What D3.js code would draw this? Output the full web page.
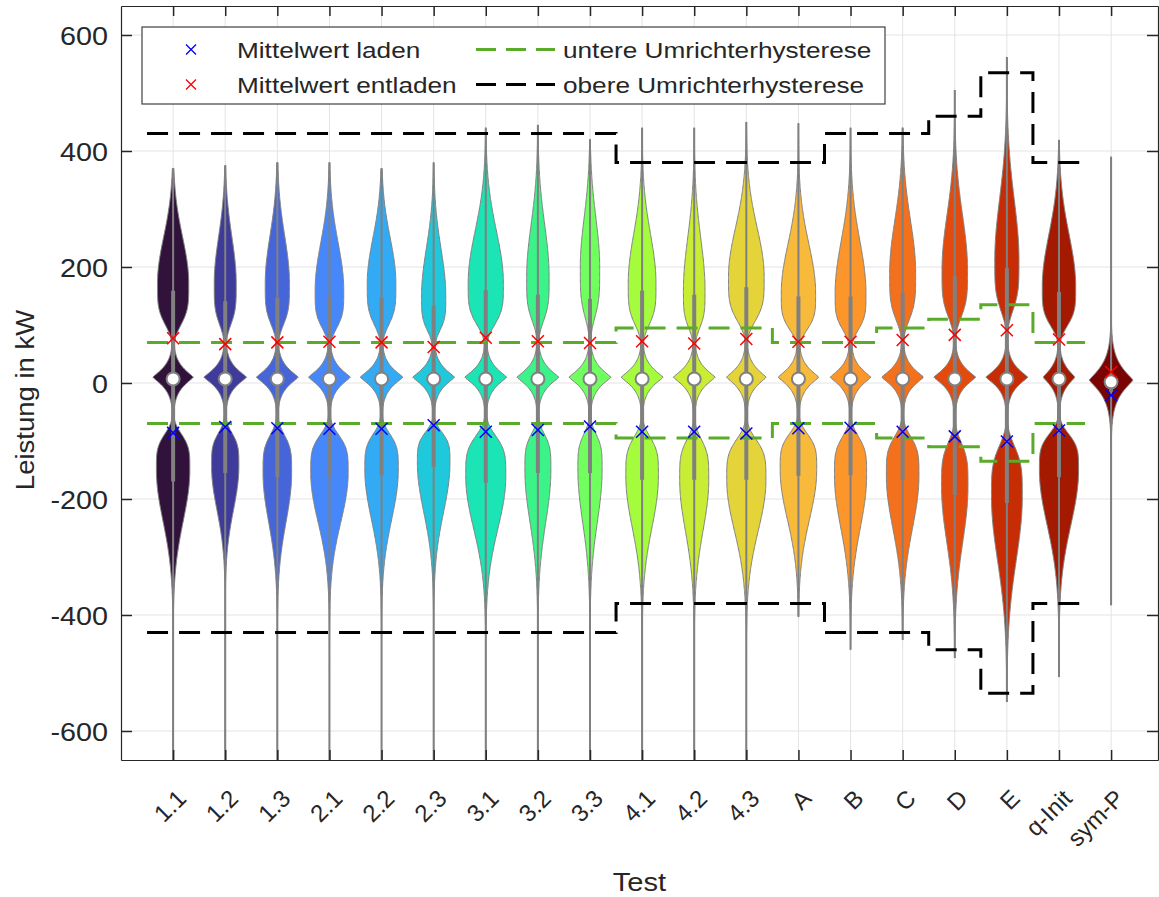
<!DOCTYPE html>
<html>
<head>
<meta charset="utf-8">
<script src="https://cdn.jsdelivr.net/npm/d3@7"></script>
<style>
  body { margin: 0; background: #fff; }
  svg text { font-family: "Liberation Sans", Arial, sans-serif; fill: #262626; }
</style>
</head>
<body>
<svg width="1159" height="897"></svg>
<script>
// categories
const tests = ['1.1','1.2','1.3','2.1','2.2','2.3','3.1','3.2','3.3','4.1','4.2','4.3','A','B','C','D','E','q-Init','sym-P'];
const yTicks = [-600, -400, -200, 0, 200, 400, 600];

// summary statistics per test (kW)
const medians = [7,7,7,7,7,7,7,7,7,7,7,7,7,7,7,7,7,7,2];
const q3 = [159,141,147,149,147,133,160,152,145,159,152,165,149,149,155,184,198,157,15];
const q1 = [-170,-155,-162,-161,-159,-145,-172,-155,-155,-167,-167,-167,-160,-159,-166,-193,-207,-162,-15];
const whiskerHigh = [370,375,380,380,370,380,440,445,420,440,440,450,448,440,440,505,562,419,390];
const whiskerLow = [-700,-700,-700,-700,-700,-700,-700,-700,-700,-700,-700,-700,-403,-460,-443,-474,-550,-507,-383];
const meanDischarge = [77,67,70,71,70,62,78,72,69,72,68,76,71,71,74,83,91,75,19];
const meanCharge = [-86,-76,-78,-79,-79,-73,-84,-81,-75,-84,-84,-87,-78,-77,-84,-92,-101,-82,-21];

// density lobes (relative density, kW)
const upperDensity = [.71,.50,.55,.65,.65,.55,.80,.51,.44,.63,.49,.81,.78,.70,.59,.58,.55,.76,0];
const upperPeak = [172,172,172,160,172,150,172,183,200,172,160,183,155,155,190,195,212,166,0];
const upperInner = [66,66,66,60,66,55,66,70,80,66,60,70,58,58,75,75,80,62,1];
const upperOuter = [80,80,82,82,78,82,90,90,85,85,90,85,85,90,90,95,105,90,1];
const midDensity = [.92,.97,.95,.95,.97,.95,.95,.95,.95,.95,.95,.90,.92,.92,.95,.95,.95,.72,.99];
const midCenter = [10,10,10,10,10,10,10,10,10,10,10,10,10,10,10,10,10,10,5];
const midSpread = [22,22,22,22,22,22,22,22,22,22,22,22,22,22,22,22,22,22,30];
const lowerDensity = [.76,.62,.65,.85,.76,.74,.91,.59,.55,.74,.66,.89,.83,.73,.74,.60,.70,.89,0];
const lowerPeak = [-150,-144,-155,-155,-150,-138,-161,-150,-150,-161,-167,-167,-150,-160,-160,-179,-196,-150,0];
const lowerInner = [57,53,60,60,57,49,64,57,57,62,64,64,57,62,62,70,80,57,1];
const lowerOuter = [88,75,85,85,85,85,90,90,90,88,88,88,85,90,90,95,110,95,1];

// converter hysteresis per test (kW), sym-P has none
const hystLower = [70,70,70,70,70,70,70,70,70,95,95,95,70,70,95,110,135,70];
const hystUpper = [430,430,430,430,430,430,430,430,430,380,380,380,380,430,430,460,535,380];

const colors = ['#30123b','#3e3b9a','#4565d9','#4687fa','#33aaf4','#1fc9db','#1be4b5','#3cf38a','#71fe5f',
  '#a4fc3c','#c9ec34','#e4d43a','#f8ba3a','#fc962b','#f3701c','#e24b0d','#c62d04','#a41a01','#7a0403'];

const svg = d3.select('svg');
const axL = 121, axR = 1158, axT = 6, axB = 760;

const x = d3.scaleLinear().domain([0, 19.9]).range([axL, axR]);
const y = d3.scaleLinear().domain([-650, 650]).range([axB, axT]);
const halfWidth = d3.scaleLinear().domain([0, 1]).range([0, 22]);

svg.append('defs').append('clipPath').attr('id', 'plot')
  .append('rect')
    .attr('x', axL).attr('y', axT)
    .attr('width', axR - axL).attr('height', axB - axT);

// grid
const grid = svg.append('g').attr('stroke', '#e3e3e3').attr('stroke-width', 1);
grid.selectAll('.gy').data(yTicks).join('line')
  .attr('x1', axL).attr('x2', axR)
  .attr('y1', d => y(d)).attr('y2', d => y(d));
grid.selectAll('.gx').data(tests).join('line')
  .attr('x1', (d, i) => x(i + 1)).attr('x2', (d, i) => x(i + 1))
  .attr('y1', axT).attr('y2', axB);

const density = (i, v) => {
  let dens = 0;
  const du = v - upperPeak[i];
  dens += upperDensity[i] * Math.exp(-0.5 * Math.pow(Math.abs(du) / (du < 0 ? upperInner[i] : upperOuter[i]), du < 0 ? 4 : 2));
  dens += midDensity[i] * Math.exp(-Math.pow(Math.abs(v - midCenter[i]) / midSpread[i], 1.2));
  const dl = v - lowerPeak[i];
  dens += lowerDensity[i] * Math.exp(-0.5 * Math.pow(Math.abs(dl) / (dl > 0 ? lowerInner[i] : lowerOuter[i]), dl > 0 ? 4 : 2));
  return dens;
};

const plot = svg.append('g').attr('clip-path', 'url(#plot)');

tests.forEach((t, i) => {
  const cx = x(i + 1);
  const lo = Math.max(whiskerLow[i], -680);
  const pts = d3.range(lo, whiskerHigh[i], 2).concat([whiskerHigh[i]])
    .map(v => ({v, w: density(i, v)}));
  const area = d3.area()
    .x0(d => cx - halfWidth(d.w))
    .x1(d => cx + halfWidth(d.w))
    .y(d => y(d.v));
  plot.append('path')
    .attr('d', area(pts))
    .attr('fill', colors[i])
    .attr('stroke', '#808080')
    .attr('stroke-width', 1);
});

// whiskers, boxes, medians
plot.selectAll('.whisker').data(tests).join('line')
  .attr('x1', (d, i) => x(i + 1)).attr('x2', (d, i) => x(i + 1))
  .attr('y1', (d, i) => y(whiskerLow[i])).attr('y2', (d, i) => y(whiskerHigh[i]))
  .attr('stroke', '#808080').attr('stroke-width', 2);
plot.selectAll('.box').data(tests).join('line')
  .attr('x1', (d, i) => x(i + 1)).attr('x2', (d, i) => x(i + 1))
  .attr('y1', (d, i) => y(q1[i])).attr('y2', (d, i) => y(q3[i]))
  .attr('stroke', '#808080').attr('stroke-width', 4);
plot.selectAll('.median').data(tests).join('circle')
  .attr('cx', (d, i) => x(i + 1)).attr('cy', (d, i) => y(medians[i]))
  .attr('r', 6.5)
  .attr('fill', '#fff').attr('stroke', '#808080').attr('stroke-width', 2);

// hysteresis stairs
const stairs = d3.line().x(d => x(d[0])).y(d => y(d[1])).curve(d3.curveStepAfter);
const stairPts = (arr, sign) => {
  const p = arr.map((v, i) => [i + 0.5, sign * v]);
  p.push([arr.length + 0.5, sign * arr[arr.length - 1]]);
  return p;
};
[[hystLower, 1, '#5aab2a'], [hystLower, -1, '#5aab2a'], [hystUpper, 1, '#000'], [hystUpper, -1, '#000']]
  .forEach(([arr, s, c]) => {
    plot.append('path')
      .attr('d', stairs(stairPts(arr, s)))
      .attr('fill', 'none')
      .attr('stroke', c)
      .attr('stroke-width', 3)
      .attr('stroke-dasharray', '21,11');
  });

// mean markers
const cross = 'M-6,-6L6,6M-6,6L6,-6';
plot.selectAll('.mDis').data(tests).join('path')
  .attr('d', cross)
  .attr('transform', (d, i) => `translate(${x(i + 1)},${y(meanDischarge[i])})`)
  .attr('stroke', '#ff0000').attr('stroke-width', 1.5).attr('fill', 'none');
plot.selectAll('.mCh').data(tests).join('path')
  .attr('d', cross)
  .attr('transform', (d, i) => `translate(${x(i + 1)},${y(meanCharge[i])})`)
  .attr('stroke', '#0000ff').attr('stroke-width', 1.5).attr('fill', 'none');

// axes
const styleAxis = g => {
  g.select('.domain').attr('stroke', '#262626').attr('stroke-width', 1.2);
  g.selectAll('.tick line').attr('stroke', '#262626').attr('stroke-width', 1.5);
};
const sy = 1.15;
svg.append('g')
  .attr('transform', `translate(${axL},0)`)
  .call(d3.axisLeft(y).tickValues(yTicks).tickSizeInner(-11).tickSizeOuter(0).tickPadding(13)
    .tickFormat(d => String(d)))
  .call(styleAxis)
  .call(g => g.selectAll('text')
    .style('font-size', '25px')
    .attr('x', -13 / sy)
    .attr('dy', '0.36em')
    .attr('transform', `scale(${sy},1)`));
svg.append('g')
  .attr('transform', `translate(${axR},0)`)
  .call(d3.axisRight(y).tickValues(yTicks).tickSizeInner(-11).tickSizeOuter(0).tickFormat(''))
  .call(styleAxis);
svg.append('g')
  .attr('transform', `translate(0,${axT})`)
  .call(d3.axisTop(x).tickValues(d3.range(1, 20)).tickSizeInner(-10).tickSizeOuter(0).tickFormat(''))
  .call(styleAxis);
svg.append('g')
  .attr('transform', `translate(0,${axB})`)
  .call(d3.axisBottom(x).tickValues(d3.range(1, 20)).tickSizeInner(-10).tickSizeOuter(0)
    .tickFormat(d => tests[d - 1]))
  .call(styleAxis)
  .call(g => g.selectAll('text')
    .style('font-size', '24px')
    .attr('x', 0).attr('y', 0).attr('dy', 0)
    .attr('text-anchor', 'end')
    .attr('transform', 'translate(14,40) rotate(-45)'));

// axis titles
svg.append('text')
  .attr('transform', `translate(${(axL + axR) / 2},891) scale(1.12,1)`)
  .attr('text-anchor', 'middle')
  .style('font-size', '26px')
  .text('Test');
svg.append('text')
  .attr('transform', 'translate(34,400) rotate(-90) scale(1.1,1)')
  .attr('text-anchor', 'middle')
  .style('font-size', '25px')
  .text('Leistung in kW');

// legend
const lg = svg.append('g');
lg.append('rect')
  .attr('x', 142).attr('y', 27).attr('width', 743).attr('height', 77)
  .attr('fill', '#fff').attr('stroke', '#404040').attr('stroke-width', 1.2);
const sl = 1.19;
const legendRows = [
  {type: 'x', color: '#0000ff', label: 'Mittelwert laden', lx: 191, tx: 237, row: 0},
  {type: 'x', color: '#ff0000', label: 'Mittelwert entladen', lx: 191, tx: 237, row: 1},
  {type: 'line', color: '#5aab2a', label: 'untere Umrichterhysterese', lx: 476, tx: 563, row: 0},
  {type: 'line', color: '#000', label: 'obere Umrichterhysterese', lx: 476, tx: 563, row: 1}
];
const rowY = [49.5, 84.5];
legendRows.forEach(r => {
  const cy = rowY[r.row];
  if (r.type === 'x') {
    lg.append('path')
      .attr('d', 'M-5,-5L5,5M-5,5L5,-5')
      .attr('transform', `translate(${r.lx},${cy})`)
      .attr('stroke', r.color).attr('stroke-width', 1.3);
  } else {
    lg.append('line')
      .attr('x1', r.lx).attr('x2', r.lx + 79)
      .attr('y1', cy).attr('y2', cy)
      .attr('stroke', r.color).attr('stroke-width', 3)
      .attr('stroke-dasharray', '20,10');
  }
  lg.append('text')
    .attr('transform', `translate(${r.tx},${cy + 8}) scale(${sl},1)`)
    .style('font-size', '22px')
    .text(r.label);
});
</script>
</body>
</html>
